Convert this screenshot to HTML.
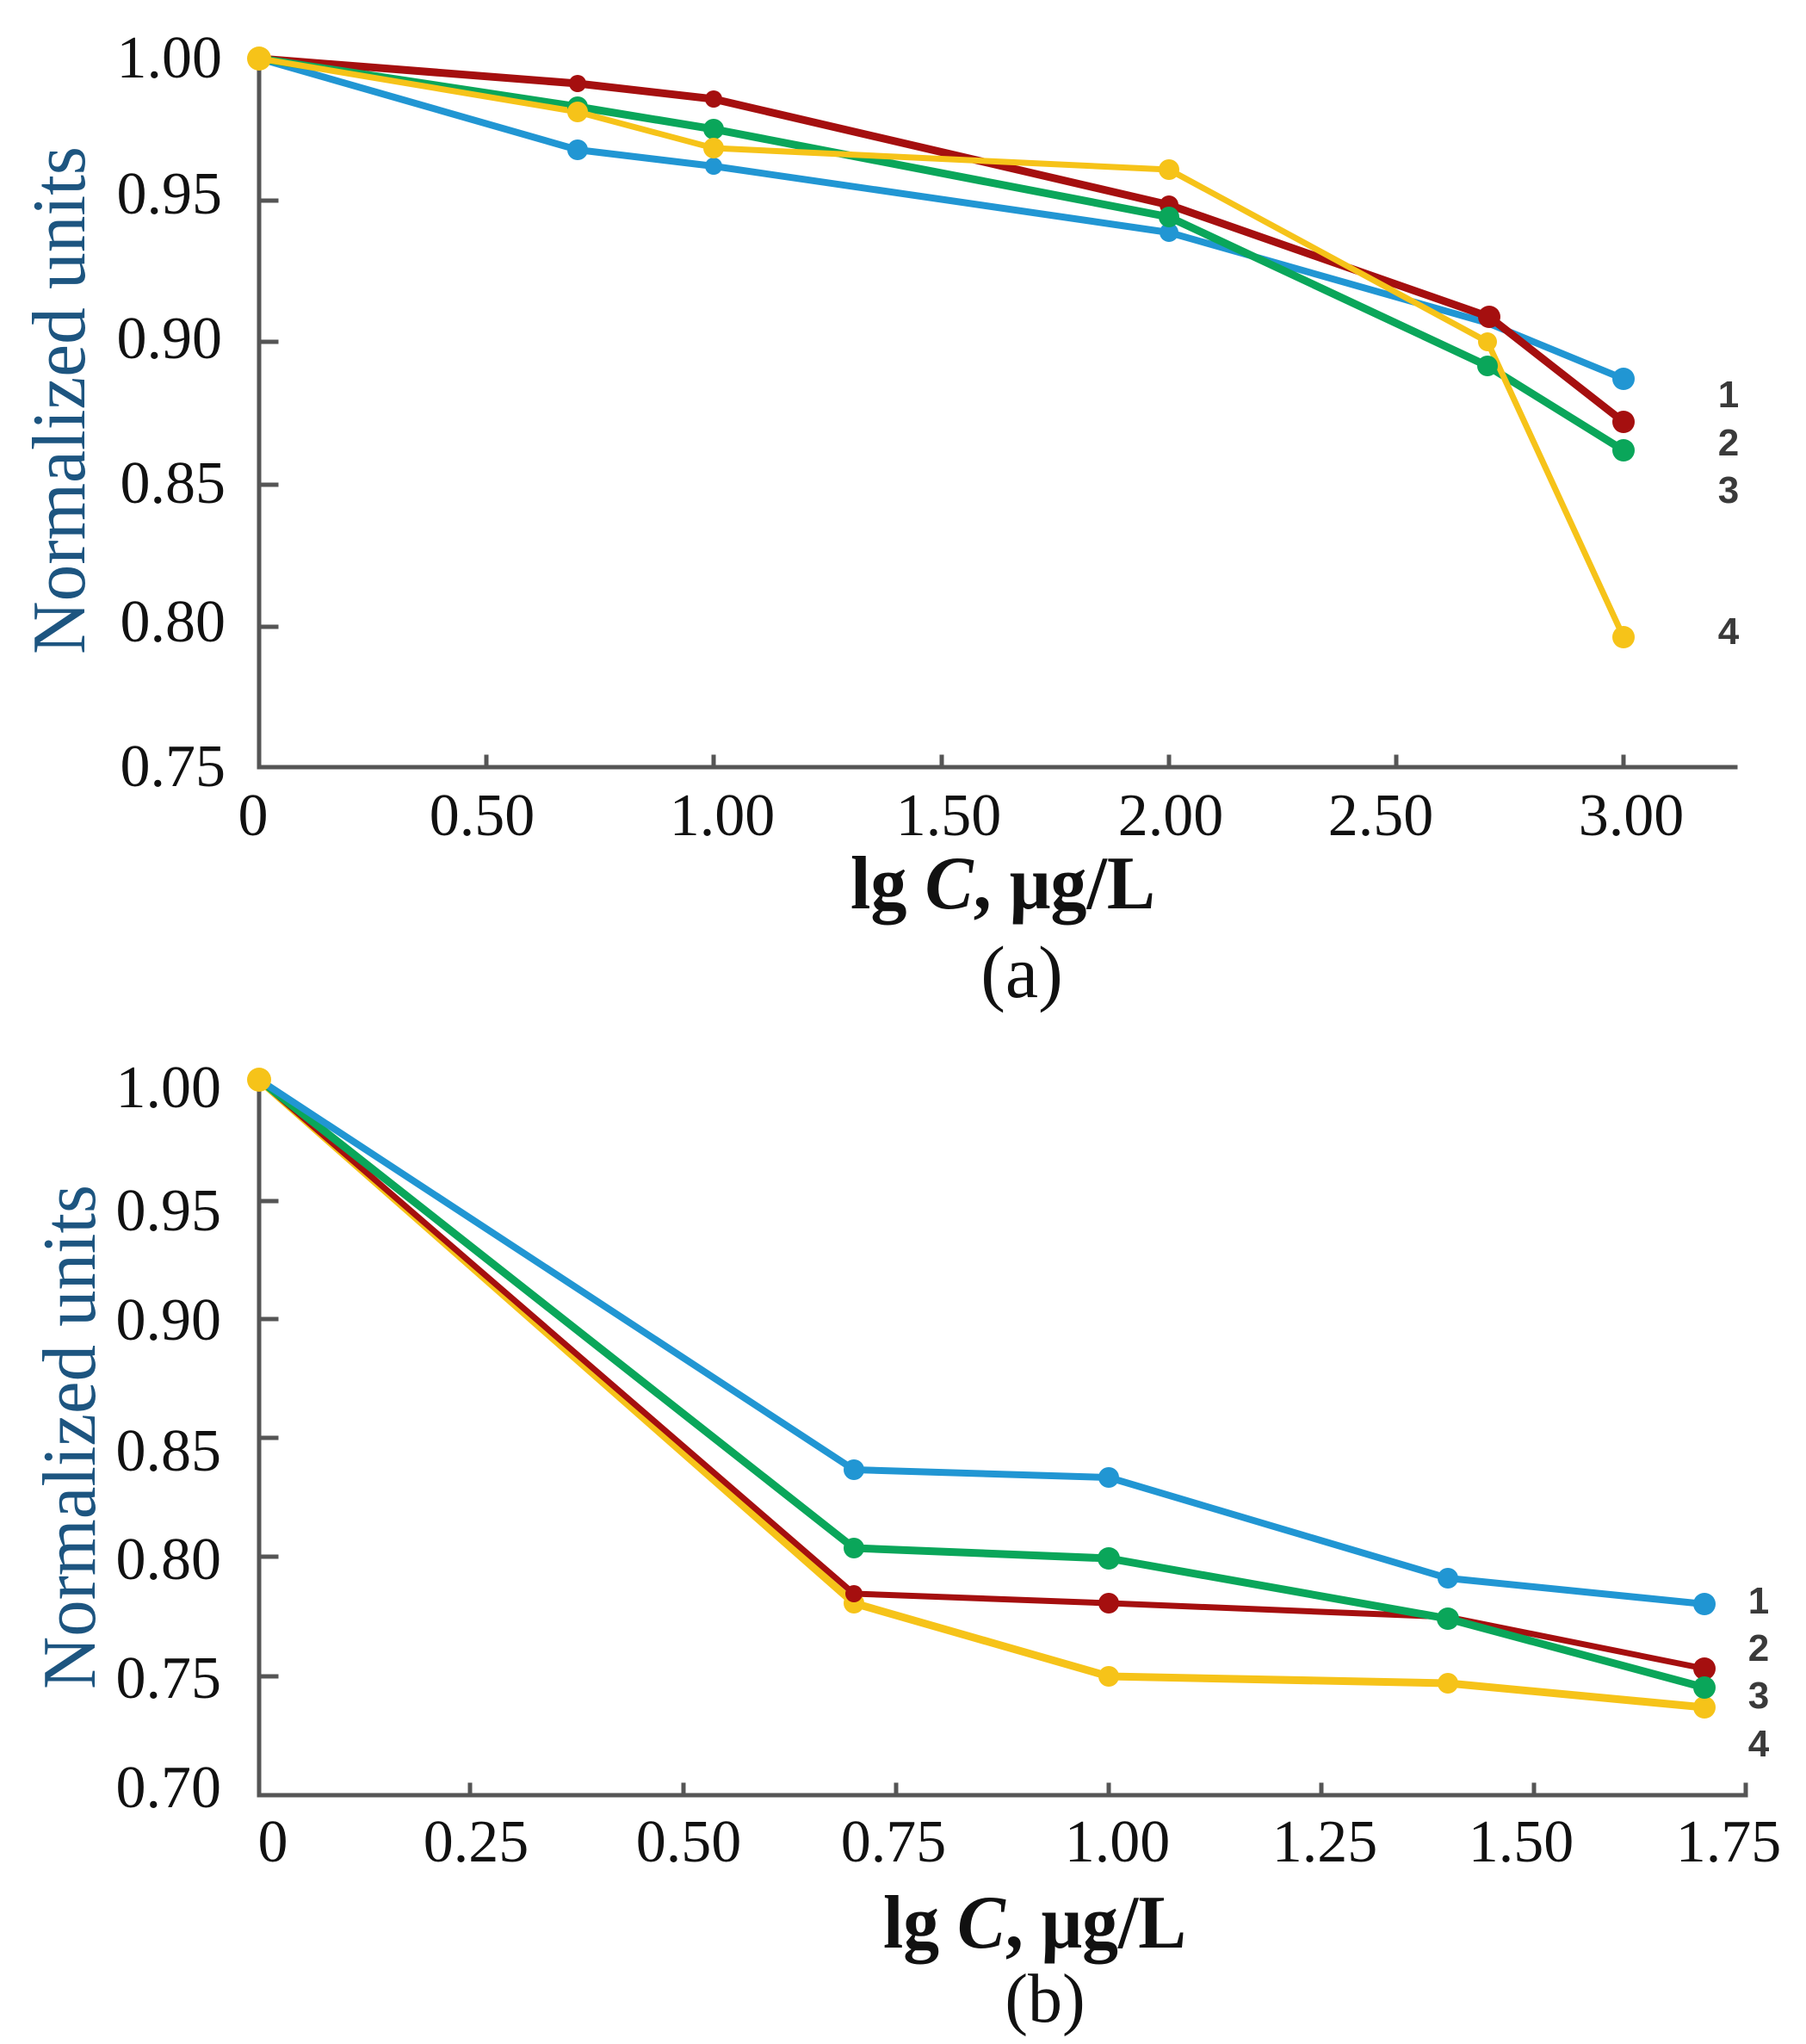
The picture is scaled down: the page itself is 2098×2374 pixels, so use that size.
<!DOCTYPE html>
<html>
<head>
<meta charset="utf-8">
<style>
html,body{margin:0;padding:0;background:#fff;}
svg{display:block;}
text{font-family:"Liberation Serif","DejaVu Serif",serif;}
.tk text{font-size:70px;fill:#111;}
text.num, .num text{font-family:"Liberation Sans","DejaVu Sans",sans-serif;font-size:44px;font-weight:bold;fill:#3a3a3a;}
</style>
</head>
<body>
<svg width="2098" height="2374" viewBox="0 0 2098 2374" xmlns="http://www.w3.org/2000/svg">
<rect width="2098" height="2374" fill="#fff"/>

<!-- ================= PANEL A ================= -->
<g stroke="#555" stroke-width="5" fill="none" stroke-linecap="square">
  <line x1="301" y1="70" x2="301" y2="891"/>
  <line x1="301" y1="891" x2="2016" y2="891"/>
  <line x1="301" y1="233" x2="321" y2="233"/>
  <line x1="301" y1="397" x2="321" y2="397"/>
  <line x1="301" y1="563" x2="321" y2="563"/>
  <line x1="301" y1="728" x2="321" y2="728"/>
  <line x1="565" y1="891" x2="565" y2="879"/>
  <line x1="829" y1="891" x2="829" y2="879"/>
  <line x1="1094" y1="891" x2="1094" y2="879"/>
  <line x1="1358" y1="891" x2="1358" y2="879"/>
  <line x1="1622" y1="891" x2="1622" y2="879"/>
  <line x1="1886" y1="891" x2="1886" y2="879"/>
</g>

<g class="tk" text-anchor="end">
  <text x="258" y="90">1.00</text>
  <text x="258" y="248">0.95</text>
  <text x="258" y="416">0.90</text>
  <text x="262" y="584">0.85</text>
  <text x="262" y="745">0.80</text>
  <text x="262" y="913">0.75</text>
</g>
<g class="tk" text-anchor="middle">
  <text x="294" y="970">0</text>
  <text x="560" y="970">0.50</text>
  <text x="839" y="970">1.00</text>
  <text x="1102" y="970">1.50</text>
  <text x="1360" y="970">2.00</text>
  <text x="1604" y="970">2.50</text>
  <text x="1895" y="970">3.00</text>
</g>

<text transform="translate(98,465) rotate(-90)" text-anchor="middle" font-size="88" fill="#1d5580" textLength="590" lengthAdjust="spacingAndGlyphs">Normalized units</text>

<text x="1165" y="1055" text-anchor="middle" font-size="88" font-weight="bold" fill="#111" textLength="354" lengthAdjust="spacingAndGlyphs">lg <tspan font-style="italic">C</tspan>, μg/L</text>
<text x="1187" y="1158" text-anchor="middle" font-size="86" fill="#111">(a)</text>

<g fill="none" stroke-linejoin="round" stroke-linecap="round">
  <polyline stroke="#2196d3" stroke-width="8" points="301,68 671,174 829,193 1358,270 1728,375 1886,440"/>
  <polyline stroke="#a50f0f" stroke-width="9" points="301,68 671,97 829,115 1358,238 1730,368 1886,490"/>
  <polyline stroke="#0aa65a" stroke-width="9" points="301,68 671,124 829,150 1358,252 1728,425 1886,523"/>
  <polyline stroke="#f6c319" stroke-width="7" points="301,68 671,130 829,172 1358,197 1728,397 1886,740"/>
</g>
<g fill="#2196d3">
  <circle cx="671" cy="174" r="12"/><circle cx="829" cy="193" r="10"/><circle cx="1358" cy="270" r="11"/><circle cx="1886" cy="440" r="13"/>
</g>
<g fill="#a50f0f">
  <circle cx="671" cy="97" r="10"/><circle cx="829" cy="115" r="10"/><circle cx="1358" cy="238" r="11"/><circle cx="1730" cy="368" r="13"/><circle cx="1886" cy="490" r="13"/>
</g>
<g fill="#0aa65a">
  <circle cx="671" cy="124" r="12"/><circle cx="829" cy="150" r="12"/><circle cx="1358" cy="252" r="12"/><circle cx="1728" cy="425" r="12"/><circle cx="1886" cy="523" r="13"/>
</g>
<g fill="#f6c319">
  <circle cx="671" cy="130" r="12"/><circle cx="829" cy="172" r="12"/><circle cx="1358" cy="197" r="12"/><circle cx="1728" cy="397" r="11"/><circle cx="1886" cy="740" r="13"/>
  <circle cx="301" cy="68" r="14"/>
</g>

<text class="num" x="2008" y="473" text-anchor="middle" fill="#2c2c4a">1</text>
<text class="num" x="2008" y="529" text-anchor="middle">2</text>
<text class="num" x="2008" y="584" text-anchor="middle">3</text>
<text class="num" x="2008" y="748" text-anchor="middle">4</text>

<!-- ================= PANEL B ================= -->
<g stroke="#555" stroke-width="5" fill="none" stroke-linecap="square">
  <line x1="301" y1="1258" x2="301" y2="2085"/>
  <line x1="301" y1="2085" x2="2028" y2="2085"/>
  <line x1="2028" y1="2085" x2="2028" y2="2073"/>
  <line x1="301" y1="1395" x2="321" y2="1395"/>
  <line x1="301" y1="1532" x2="321" y2="1532"/>
  <line x1="301" y1="1670" x2="321" y2="1670"/>
  <line x1="301" y1="1808" x2="321" y2="1808"/>
  <line x1="301" y1="1947" x2="321" y2="1947"/>
  <line x1="546" y1="2085" x2="546" y2="2073"/>
  <line x1="794" y1="2085" x2="794" y2="2073"/>
  <line x1="1041" y1="2085" x2="1041" y2="2073"/>
  <line x1="1288" y1="2085" x2="1288" y2="2073"/>
  <line x1="1535" y1="2085" x2="1535" y2="2073"/>
  <line x1="1782" y1="2085" x2="1782" y2="2073"/>
</g>

<g class="tk" text-anchor="end">
  <text x="257" y="1286">1.00</text>
  <text x="257" y="1429">0.95</text>
  <text x="257" y="1556">0.90</text>
  <text x="257" y="1708">0.85</text>
  <text x="257" y="1834">0.80</text>
  <text x="257" y="1972">0.75</text>
  <text x="257" y="2099">0.70</text>
</g>
<g class="tk" text-anchor="middle">
  <text x="317" y="2162">0</text>
  <text x="553" y="2162">0.25</text>
  <text x="800" y="2162">0.50</text>
  <text x="1038" y="2162">0.75</text>
  <text x="1298" y="2162">1.00</text>
  <text x="1539" y="2162">1.25</text>
  <text x="1767" y="2162">1.50</text>
  <text x="2008" y="2162">1.75</text>
</g>

<text transform="translate(110,1669) rotate(-90)" text-anchor="middle" font-size="88" fill="#1d5580" textLength="586" lengthAdjust="spacingAndGlyphs">Normalized units</text>

<text x="1202" y="2262" text-anchor="middle" font-size="88" font-weight="bold" fill="#111" textLength="352" lengthAdjust="spacingAndGlyphs">lg <tspan font-style="italic">C</tspan>, μg/L</text>
<text x="1214" y="2348" text-anchor="middle" font-size="80" fill="#111">(b)</text>

<g fill="none" stroke-linejoin="round" stroke-linecap="round">
  <polyline stroke="#f6c319" stroke-width="9" points="301,1254 992,1862 1288,1947 1682,1955 1980,1983"/>
  <polyline stroke="#a50f0f" stroke-width="7" points="301,1254 992,1851 1288,1862 1682,1878 1980,1938"/>
  <polyline stroke="#0aa65a" stroke-width="9" points="301,1254 992,1798 1288,1810 1682,1880 1980,1960"/>
  <polyline stroke="#2196d3" stroke-width="8" points="301,1254 992,1707 1288,1716 1682,1833 1980,1863"/>
</g>
<g fill="#f6c319">
  <circle cx="992" cy="1862" r="12"/><circle cx="1288" cy="1947" r="12"/><circle cx="1682" cy="1955" r="12"/><circle cx="1980" cy="1983" r="13"/>
</g>
<g fill="#a50f0f">
  <circle cx="992" cy="1851" r="10"/><circle cx="1288" cy="1862" r="12"/><circle cx="1980" cy="1938" r="13"/>
</g>
<g fill="#0aa65a">
  <circle cx="992" cy="1798" r="12"/><circle cx="1288" cy="1810" r="13"/><circle cx="1682" cy="1880" r="13"/><circle cx="1980" cy="1960" r="13"/>
</g>
<g fill="#2196d3">
  <circle cx="992" cy="1707" r="12"/><circle cx="1288" cy="1716" r="12"/><circle cx="1682" cy="1833" r="12"/><circle cx="1980" cy="1863" r="13"/>
</g>
<circle cx="301" cy="1254" r="14" fill="#f6c319"/>

<text class="num" x="2043" y="1874" text-anchor="middle" fill="#2c2c4a">1</text>
<text class="num" x="2043" y="1929" text-anchor="middle">2</text>
<text class="num" x="2043" y="1984" text-anchor="middle" fill="#2c2c4a">3</text>
<text class="num" x="2043" y="2040" text-anchor="middle">4</text>
</svg>
</body>
</html>
